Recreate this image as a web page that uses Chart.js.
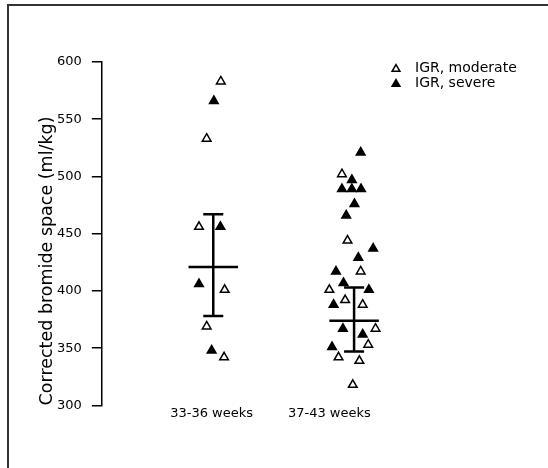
<!DOCTYPE html>
<html>
<head>
<meta charset="utf-8">
<script src="https://cdn.jsdelivr.net/npm/chart.js@4/dist/chart.umd.min.js"></script>
<style>
  html, body { margin: 0; padding: 0; background: #fff; }
  #wrap { position: relative; width: 548px; height: 468px; overflow: hidden; }
  #frame { position: absolute; left: 7px; top: 4px; right: -10px; bottom: -10px;
           border-top: 2px solid #333; border-left: 2px solid #333; pointer-events: none; }
</style>
</head>
<body>
<div id="wrap">
  <canvas id="chart" width="548" height="468"></canvas>
  <div id="frame"></div>
</div>
<script>
// categories on the x axis (tick at 1 and 2)
var categories = ["33-36 weeks", "37-43 weeks"];
var groupX = [1.014, 2.21];

// IGR, moderate (open triangles)
var moderateX = [1.078, 0.958, 0.893, 1.111, 0.958, 1.106,
                 2.107, 2.154, 2.266, 2.000, 2.134, 2.283, 2.392, 2.330, 2.078, 2.255, 2.199];
var moderateY = [583, 533, 456, 401, 369, 342,
                 502, 444, 417, 401, 392, 388, 367, 353, 342, 339, 318];

// IGR, severe (filled triangles)
var severeX = [1.019, 1.075, 0.893, 1.000,
               2.266, 2.191, 2.107, 2.191, 2.269, 2.213, 2.143, 2.372, 2.246, 2.056, 2.120,
               2.336, 2.036, 2.115, 2.283, 2.023];
var severeY = [566, 456, 406, 348,
               521, 497, 489, 489, 489, 476, 466, 437, 429, 417, 407,
               401, 388, 367, 362, 351];

// mean and +/- SD for each group
var means = [421, 374];
var sdHigh = [467, 403];
var sdLow = [378, 347];

var errorBars = {
  id: 'errorBars',
  beforeDatasetsDraw: function (chart) {
    var ctx = chart.ctx;
    var xs = chart.scales.x;
    var ys = chart.scales.y;
    ctx.save();
    ctx.strokeStyle = '#000';
    ctx.lineWidth = 2.5;
    for (var i = 0; i < means.length; i++) {
      var x = xs.getPixelForValue(groupX[i]);
      var wMean = xs.getPixelForValue(groupX[i] + 0.21) - x;
      var wCap = xs.getPixelForValue(groupX[i] + 0.085) - x;
      var yM = ys.getPixelForValue(means[i]);
      var yH = ys.getPixelForValue(sdHigh[i]);
      var yL = ys.getPixelForValue(sdLow[i]);
      ctx.beginPath();
      ctx.moveTo(x, yH); ctx.lineTo(x, yL);
      ctx.moveTo(x - wMean, yM); ctx.lineTo(x + wMean, yM);
      ctx.moveTo(x - wCap, yH); ctx.lineTo(x + wCap, yH);
      ctx.moveTo(x - wCap, yL); ctx.lineTo(x + wCap, yL);
      ctx.stroke();
    }
    ctx.restore();
  }
};

// small legend in the top right corner, next to the chart area
var cornerLegend = {
  id: 'cornerLegend',
  afterDraw: function (chart) {
    var ctx = chart.ctx;
    var area = chart.chartArea;
    ctx.save();
    ctx.font = "14px 'DejaVu Sans', sans-serif";
    ctx.textBaseline = 'middle';
    chart.data.datasets.forEach(function (ds, i) {
      var y = area.top + 6 + i * 15;
      ctx.fillStyle = ds.backgroundColor;
      ctx.strokeStyle = ds.borderColor;
      ctx.lineWidth = ds.borderWidth;
      Chart.helpers.drawPoint(ctx, {pointStyle: 'triangle', radius: 4.5, borderWidth: ds.borderWidth}, area.right + 6, y + 1);
      ctx.fillStyle = '#000';
      ctx.fillText(ds.label, area.right + 25, y);
    });
    ctx.restore();
  }
};

function toPoints(xs, ys) {
  return xs.map(function (x, i) { return {x: x, y: ys[i]}; });
}

Chart.defaults.font.family = "'DejaVu Sans', sans-serif";
Chart.defaults.color = '#000';

new Chart(document.getElementById('chart'), {
  type: 'scatter',
  data: {
    datasets: [{
      label: 'IGR, moderate',
      data: toPoints(moderateX, moderateY),
      pointStyle: 'triangle',
      radius: 5,
      backgroundColor: '#fff',
      borderColor: '#000',
      borderWidth: 1.5
    }, {
      label: 'IGR, severe',
      data: toPoints(severeX, severeY),
      pointStyle: 'triangle',
      radius: 5,
      backgroundColor: '#000',
      borderColor: '#000',
      borderWidth: 1.5
    }]
  },
  options: {
    responsive: false,
    animation: false,
    layout: { padding: { left: 31, top: 62, right: 158, bottom: 47 } },
    plugins: {
      tooltip: { enabled: false },
      legend: { display: false }
    },
    scales: {
      x: {
        type: 'linear',
        min: 0.0675,
        max: 2.515,
        grid: { display: false, drawTicks: false },
        border: { display: false },
        afterBuildTicks: function (axis) {
          axis.ticks = categories.map(function (c, i) { return {value: i + 1}; });
        },
        ticks: {
          padding: 0,
          font: { size: 13 },
          callback: function (v) { return categories[v - 1]; }
        }
      },
      y: {
        min: 300,
        max: 600,
        grid: { drawOnChartArea: false, drawTicks: true, tickLength: 10, color: '#000', lineWidth: 1.5 },
        border: { display: true, color: '#000', width: 1.5 },
        ticks: { stepSize: 50, padding: 10, font: { size: 13 } },
        title: {
          display: true,
          text: 'Corrected bromide space (ml/kg)',
          align: 'start',
          font: { size: 17.5 },
          padding: { top: 6, bottom: -11 }
        }
      }
    }
  },
  plugins: [errorBars, cornerLegend]
});
</script>
</body>
</html>
